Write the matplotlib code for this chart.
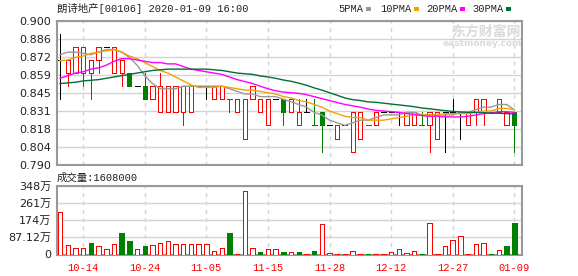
import numpy as np
import matplotlib.pyplot as plt
from matplotlib.patches import Rectangle

# daily k-line, 00106, 2019-10 .. 2020-01
opens = [0.87, 0.86, 0.86, 0.86, 0.86, 0.87, 0.88, 0.86, 0.86, 0.86,
         0.85, 0.85, 0.84, 0.83, 0.83, 0.83, 0.83, 0.83, 0.85, 0.85,
         0.84, 0.84, 0.84, 0.83, 0.81, 0.84, 0.83, 0.82, 0.84, 0.84,
         0.83, 0.82, 0.83, 0.82, 0.83, 0.82, 0.81, 0.82, 0.80, 0.81,
         0.82, 0.82, 0.83, 0.83, 0.83, 0.82, 0.82, 0.82, 0.82, 0.81,
         0.83, 0.83, 0.83, 0.82, 0.83, 0.83, 0.83, 0.83, 0.82, 0.83]
highs = [0.89, 0.87, 0.88, 0.88, 0.87, 0.88, 0.88, 0.88, 0.87, 0.86,
         0.85, 0.86, 0.85, 0.86, 0.85, 0.85, 0.85, 0.85, 0.85, 0.85,
         0.85, 0.85, 0.84, 0.84, 0.84, 0.85, 0.84, 0.84, 0.84, 0.84,
         0.84, 0.84, 0.84, 0.84, 0.83, 0.82, 0.82, 0.82, 0.83, 0.83,
         0.82, 0.83, 0.83, 0.83, 0.83, 0.83, 0.83, 0.83, 0.83, 0.83,
         0.83, 0.84, 0.83, 0.83, 0.84, 0.84, 0.83, 0.84, 0.83, 0.83]
lows = [0.84, 0.85, 0.86, 0.85, 0.84, 0.86, 0.88, 0.86, 0.85, 0.85,
        0.85, 0.84, 0.84, 0.83, 0.83, 0.83, 0.82, 0.83, 0.85, 0.84,
        0.84, 0.84, 0.83, 0.83, 0.81, 0.84, 0.83, 0.82, 0.84, 0.82,
        0.83, 0.82, 0.83, 0.82, 0.80, 0.82, 0.81, 0.82, 0.80, 0.81,
        0.82, 0.82, 0.83, 0.83, 0.82, 0.82, 0.82, 0.82, 0.80, 0.81,
        0.80, 0.83, 0.81, 0.82, 0.82, 0.82, 0.83, 0.83, 0.82, 0.80]
closes = [0.87, 0.87, 0.88, 0.88, 0.87, 0.88, 0.88, 0.88, 0.87, 0.85,
          0.85, 0.84, 0.85, 0.85, 0.85, 0.85, 0.85, 0.85, 0.85, 0.85,
          0.85, 0.85, 0.84, 0.84, 0.84, 0.85, 0.84, 0.84, 0.84, 0.83,
          0.84, 0.83, 0.83, 0.82, 0.82, 0.82, 0.82, 0.82, 0.83, 0.83,
          0.82, 0.83, 0.83, 0.83, 0.83, 0.83, 0.83, 0.82, 0.83, 0.83,
          0.83, 0.83, 0.83, 0.83, 0.84, 0.84, 0.83, 0.84, 0.83, 0.82]
# volume in 万
volume = [214, 46, 34, 34, 58, 41, 26, 51, 109, 67,
          26, 41, 46, 58, 67, 51, 51, 51, 55, 51,
          17, 34, 109, 2, 323, 34, 12, 29, 26, 12,
          15, 12, 3, 20, 157, 7, 2, 2, 19, 2,
          2, 1, 2, 15, 29, 10, 19, 2, 162, 2,
          41, 72, 92, 2, 55, 61, 2, 24, 41, 160.8]

# moving averages as drawn on the chart
ma5 = [0.874, 0.876, 0.876, 0.875, 0.874, 0.876, 0.878, 0.878, 0.876, 0.872,
       0.866, 0.858, 0.852, 0.848, 0.848, 0.848, 0.850, 0.850, 0.850, 0.850,
       0.850, 0.850, 0.848, 0.846, 0.844, 0.844, 0.842, 0.842, 0.842, 0.840,
       0.838, 0.836, 0.834, 0.830, 0.828, 0.824, 0.822, 0.820, 0.822, 0.824,
       0.824, 0.826, 0.828, 0.828, 0.828, 0.830, 0.830, 0.828, 0.828, 0.828,
       0.828, 0.828, 0.830, 0.830, 0.832, 0.834, 0.834, 0.836, 0.836, 0.832]
ma10 = [0.8695, 0.870, 0.872, 0.873, 0.875, 0.876, 0.877, 0.878, 0.876, 0.873,
        0.871, 0.868, 0.865, 0.862, 0.860, 0.857, 0.854, 0.851, 0.849, 0.849,
        0.849, 0.850, 0.849, 0.848, 0.847, 0.847, 0.846, 0.845, 0.844, 0.842,
        0.841, 0.839, 0.838, 0.836, 0.834, 0.831, 0.829, 0.827, 0.826, 0.826,
        0.824, 0.824, 0.824, 0.825, 0.826, 0.827, 0.828, 0.828, 0.828, 0.828,
        0.829, 0.829, 0.829, 0.829, 0.830, 0.831, 0.831, 0.833, 0.833, 0.832]
ma20 = [0.856, 0.858, 0.860, 0.861, 0.863, 0.864, 0.866, 0.869, 0.871, 0.871,
        0.870, 0.869, 0.868, 0.868, 0.867, 0.867, 0.865, 0.863, 0.862, 0.861,
        0.860, 0.859, 0.857, 0.855, 0.8535, 0.852, 0.850, 0.848, 0.8465, 0.8455,
        0.845, 0.8445, 0.8435, 0.842, 0.8405, 0.839, 0.8375, 0.836, 0.835, 0.834,
        0.8325, 0.8315, 0.831, 0.8305, 0.830, 0.829, 0.8285, 0.8275, 0.827, 0.827,
        0.8265, 0.8265, 0.8265, 0.827, 0.828, 0.829, 0.8295, 0.8305, 0.8305, 0.830]
ma30 = [0.852, 0.8525, 0.853, 0.854, 0.8545, 0.855, 0.856, 0.857, 0.858, 0.859,
        0.860, 0.861, 0.862, 0.8625, 0.863, 0.863, 0.863, 0.863, 0.863, 0.863,
        0.8625, 0.862, 0.861, 0.860, 0.8595, 0.859, 0.8578, 0.857, 0.856, 0.8547,
        0.8537, 0.8523, 0.8507, 0.8487, 0.847, 0.845, 0.843, 0.841, 0.8397, 0.839,
        0.838, 0.8377, 0.837, 0.8363, 0.8357, 0.835, 0.8343, 0.8333, 0.8327, 0.832,
        0.8313, 0.8307, 0.8303, 0.830, 0.830, 0.8297, 0.8293, 0.8293, 0.829, 0.8287]

date_labels = ["10-14", "10-24", "11-05", "11-15", "11-28", "12-12", "12-27", "01-09"]
price_labels = ["0.790", "0.804", "0.818", "0.831", "0.845", "0.859", "0.872", "0.886", "0.900"]
vol_labels = ["0", "87.12万", "174万", "261万", "348万"]
title = "朗诗地产[00106] 2020-01-09 16:00"
vol_title = "成交量:1608000"
ma_names = ["5PMA", "10PMA", "20PMA", "30PMA"]

RED = "#ff0000"
GREEN = "#008000"
ma_colors = ["#999999", "#f5a000", "#ff00ff", "#006f35"]
FRAME = "#999999"
GRID = "#d4d4d4"
mono = ["Liberation Mono", "Noto Sans CJK SC"]
sans = ["DejaVu Sans", "Noto Sans CJK SC"]
PX = 0.72  # one pixel in points

fig = plt.figure(figsize=(5.78, 2.76), dpi=100)
ax = fig.add_axes([57 / 578, 1 - 164.7 / 276, 465 / 578, 144 / 276])
ax2 = fig.add_axes([57 / 578, 1 - 254.5 / 276, 465 / 578, 68.5 / 276])

n = len(closes)
x = np.arange(n)
w = 0.55

for i in range(n):
    o, h, l, c = opens[i], highs[i], lows[i], closes[i]
    prev = closes[i - 1] if i > 0 else c
    if c > o:
        col = RED
    elif c < o:
        col = GREEN
    else:
        col = RED if c > prev else (GREEN if c < prev else "black")
    if h > l:
        ax.vlines(i, l, h, color=col, lw=PX, zorder=3, antialiased=False)
    if c > o:
        ax.add_patch(Rectangle((i - w / 2, o), w, c - o, facecolor="white",
                               edgecolor=col, lw=PX, zorder=4, antialiased=False))
    elif c < o:
        ax.add_patch(Rectangle((i - w / 2, c), w, o - c, facecolor=col,
                               edgecolor=col, lw=PX, zorder=4, antialiased=False))
    else:
        ax.hlines(c, i - w / 2 - 0.05, i + w / 2 + 0.05, color=col, lw=PX,
                  zorder=4, antialiased=False)

for ma, mc in zip([ma5, ma10, ma20, ma30], ma_colors):
    ax.plot(x, ma, color=mc, lw=1, zorder=5)

# volume colored by close vs previous close
vcol = []
for i in range(n):
    prev = closes[i - 1] if i > 0 else closes[i]
    vcol.append(GREEN if closes[i] < prev else RED)
vface = [c if c == GREEN else "white" for c in vcol]
ax2.bar(x, volume, width=0.58, color=vface, edgecolor=vcol, lw=PX, zorder=3,
        antialiased=False)

tick_idx = np.arange(3, n, 8)
yt = np.linspace(0.79, 0.90, len(price_labels))
ax.set_ylim(0.79, 0.90)
ax.set_yticks(yt)
ax.set_yticklabels(price_labels)
vt = np.linspace(0, 348.48, len(vol_labels))
ax2.set_ylim(0, 348.48)
ax2.set_yticks(vt)
ax2.set_yticklabels(vol_labels)

for a in (ax, ax2):
    a.set_xlim(-0.4, n)
    a.set_xticks(tick_idx)
    a.grid(axis="y", color=GRID, lw=1, zorder=0)
    for t in tick_idx:
        a.axvline(t, color=GRID, lw=1, ls=(0, (3, 3)), zorder=0)
    for s in a.spines.values():
        s.set_color(FRAME)
        s.set_linewidth(1.5)
    a.tick_params(length=0, pad=4, labelsize=8, labelcolor="#222222")
    for lab in a.get_yticklabels():
        lab.set_family(sans)

ax.set_xticklabels([])
ax2.set_xticklabels(date_labels)
ax2.tick_params(axis="x", pad=6, labelcolor=RED, labelsize=7.5)
for lab in ax2.get_xticklabels():
    lab.set_family(mono)

fig.text(57 / 578, 1 - 8.5 / 276, title, family=mono, fontsize=7.5,
         color="#222222", va="center", ha="left")
fig.text(57 / 578, 1 - 177.5 / 276, vol_title, family=mono, fontsize=7.5,
         color="#222222", va="center", ha="left")

# legend along the top
leg_x = [338, 380, 426, 472]
for name, mc, lx in zip(ma_names, ma_colors, leg_x):
    fig.text(lx / 578, 1 - 9 / 276, name, family=mono, fontsize=7.5,
             color="#222222", va="center", ha="left")
    tw = len(name) * 6.25
    fig.add_artist(Rectangle(((lx + tw + 3) / 578, 1 - 10.5 / 276), 5 / 578, 3 / 276,
                             transform=fig.transFigure, color=mc, lw=0))

# watermark
fig.text(521 / 578, 1 - 32 / 276, "东方财富网", family=sans, fontsize=10,
         fontweight="bold", color="#dadada", ha="right", va="center", zorder=1)
fig.text(522 / 578, 1 - 43 / 276, "eastmoney.com", family=sans, fontsize=6.5,
         fontweight="bold", color="#dadada", ha="right", va="center", zorder=1)

fig.savefig("out.png", dpi=100)
